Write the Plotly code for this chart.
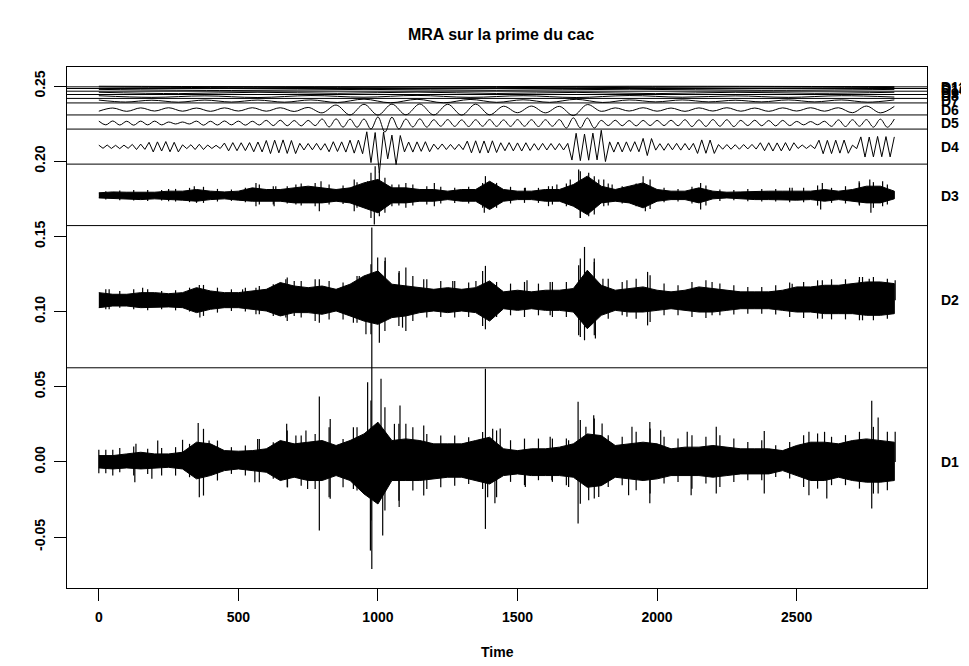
import numpy as np
import plotly.graph_objects as go

# ---- data (wavelet MRA details of the cac premium) ----
t_env = np.arange(0, 2851, 50)          # time grid of the core-band readings
t_hair = np.arange(25, 2851, 50)        # time grid of the outer (hair) readings

d1_hi = [0.0042,0.0042,0.0053,0.0064,0.0053,0.0053,0.0064,0.0131,0.0120,0.0075,
         0.0071,0.0075,0.0087,0.0142,0.0120,0.0131,0.0142,0.0109,0.0142,0.0186,
         0.0264,0.0142,0.0153,0.0142,0.0120,0.0120,0.0120,0.0142,0.0164,0.0087,
         0.0075,0.0087,0.0087,0.0098,0.0120,0.0186,0.0175,0.0109,0.0120,0.0131,
         0.0120,0.0087,0.0098,0.0098,0.0109,0.0098,0.0087,0.0087,0.0087,0.0075,
         0.0109,0.0131,0.0131,0.0120,0.0142,0.0153,0.0142,0.0131]
d1_lo = [-0.0040,-0.0047,-0.0040,-0.0047,-0.0040,-0.0036,-0.0047,-0.0113,-0.0091,-0.0058,
         -0.0047,-0.0058,-0.0069,-0.0124,-0.0102,-0.0124,-0.0124,-0.0091,-0.0124,-0.0213,
         -0.0280,-0.0124,-0.0124,-0.0124,-0.0113,-0.0102,-0.0102,-0.0124,-0.0147,-0.0091,
         -0.0080,-0.0091,-0.0091,-0.0091,-0.0102,-0.0169,-0.0158,-0.0102,-0.0113,-0.0124,
         -0.0113,-0.0091,-0.0091,-0.0091,-0.0102,-0.0091,-0.0080,-0.0080,-0.0080,-0.0058,
         -0.0091,-0.0124,-0.0124,-0.0102,-0.0124,-0.0135,-0.0135,-0.0124]
d1_hair_hi = [0.0080,0.0093,0.0102,0.0087,0.0093,0.0098,0.0120,0.0220,0.0142,0.0098,
              0.0109,0.0153,0.0131,0.0209,0.0175,0.0186,0.0231,0.0153,0.0231,0.0408,
              0.0364,0.0253,0.0231,0.0186,0.0175,0.0175,0.0164,0.0198,0.0209,0.0144,
              0.0155,0.0155,0.0155,0.0155,0.0278,0.0289,0.0178,0.0167,0.0200,0.0222,
              0.0167,0.0155,0.0178,0.0167,0.0178,0.0155,0.0133,0.0144,0.0111,0.0133,
              0.0178,0.0189,0.0167,0.0178,0.0200,0.0233,0.0200]
d1_hair_lo = [-0.0075,-0.0069,-0.0091,-0.0080,-0.0091,-0.0091,-0.0102,-0.0224,-0.0124,-0.0080,
              -0.0091,-0.0135,-0.0113,-0.0169,-0.0158,-0.0180,-0.0235,-0.0169,-0.0191,-0.0390,
              -0.0324,-0.0258,-0.0191,-0.0180,-0.0169,-0.0158,-0.0147,-0.0180,-0.0235,-0.0133,
              -0.0155,-0.0122,-0.0133,-0.0155,-0.0278,-0.0244,-0.0167,-0.0155,-0.0189,-0.0211,
              -0.0144,-0.0133,-0.0178,-0.0144,-0.0167,-0.0133,-0.0122,-0.0122,-0.0100,-0.0111,
              -0.0167,-0.0178,-0.0155,-0.0155,-0.0178,-0.0211,-0.0189]
d1_spikes = [(0,0.008),(0,-0.0075),(50,0.008),(50,-0.009),(133,0.012),(129,-0.0135),
             (211,0.0142),(190,-0.0113),(300,0.0147),(356,0.0258),(360,-0.0235),(395,0.0142),
             (569,0.0153),(559,-0.0135),(673,0.0253),(676,-0.0169),(706,0.0175),(742,0.0209),
             (748,-0.018),(790,0.0435),(790,-0.0457),(829,0.0286),(829,-0.0246),(912,0.0231),
             (912,-0.018),(963,0.053),(973,-0.059),(978,-0.0713),(978,0.156),(1011,0.0553),
             (1017,-0.049),(1059,0.0253),(1079,0.0375),(1076,-0.030),(1100,0.0253),
             (1164,0.0242),(1164,-0.0224),(1385,0.062),(1385,-0.0446),(1411,0.022),
             (1393,-0.0235),(1419,-0.0275),(1438,0.0222),(1528,-0.0167),(1617,0.0167),
             (1623,-0.0122),(1683,0.0144),(1683,-0.0167),(1717,0.040),(1717,-0.041),
             (1745,0.0233),(1773,0.031),(1755,-0.0255),(1803,0.0255),(1791,-0.0233),
             (1898,-0.0222),(1910,0.0233),(1974,0.0266),(1974,-0.0275),(2013,0.0211),
             (2108,0.02),(2122,-0.0222),(2212,0.0233),(2212,-0.0211),(2384,0.0206),
             (2384,-0.0211),(2544,0.02),(2544,-0.0222),(2608,-0.0244),(2600,0.02),
             (2769,0.0406),(2769,-0.031),(2792,0.0295),(2792,-0.0211),(2853,0.02)]

d2_hi = [0.0051,0.0040,0.0040,0.0051,0.0051,0.0044,0.0051,0.0084,0.0062,0.0051,
         0.0051,0.0062,0.0073,0.0118,0.0095,0.0084,0.0095,0.0073,0.0107,0.0162,
         0.0195,0.0107,0.0095,0.0084,0.0073,0.0084,0.0073,0.0084,0.0129,
         0.0056,0.0067,0.0056,0.0067,0.0067,0.0078,0.0200,0.0100,0.0067,0.0078,
         0.0089,0.0067,0.0056,0.0067,0.0089,0.0078,0.0067,0.0056,0.0056,0.0056,
         0.0067,0.0089,0.0089,0.0100,0.0100,0.0111,0.0122,0.0122,0.0111]
d2_lo = [-0.0049,-0.0038,-0.0038,-0.0049,-0.0049,-0.0044,-0.0049,-0.0082,-0.0060,-0.0049,
         -0.0049,-0.0060,-0.0071,-0.0104,-0.0082,-0.0082,-0.0093,-0.0071,-0.0104,-0.0138,
         -0.0160,-0.0115,-0.0104,-0.0082,-0.0071,-0.0082,-0.0071,-0.0082,-0.0138,
         -0.0056,-0.0067,-0.0056,-0.0067,-0.0067,-0.0078,-0.0189,-0.0100,-0.0067,-0.0078,
         -0.0078,-0.0067,-0.0056,-0.0067,-0.0078,-0.0078,-0.0067,-0.0056,-0.0056,-0.0056,
         -0.0067,-0.0078,-0.0078,-0.0089,-0.0089,-0.0089,-0.0100,-0.0100,-0.0089]
d2_hair_hi = [0.0073,0.0062,0.0073,0.0073,0.0062,0.0067,0.0084,0.0102,0.0084,0.0073,
              0.0084,0.0095,0.0107,0.0151,0.0129,0.0140,0.0129,0.0118,0.0162,0.0240,
              0.0262,0.0184,0.0162,0.0140,0.0129,0.0129,0.0118,0.0195,0.0122,0.0111,
              0.0122,0.0111,0.0122,0.0122,0.0278,0.0255,0.0144,0.0122,0.0144,0.0167,
              0.0111,0.0100,0.0122,0.0133,0.0111,0.0100,0.0089,0.0089,0.0100,0.0118,
              0.0122,0.0133,0.0140,0.0140,0.0155,0.0155,0.0144]
d2_hair_lo = [-0.0060,-0.0049,-0.0060,-0.0067,-0.0060,-0.0067,-0.0075,-0.0104,-0.0082,-0.0071,
              -0.0075,-0.0093,-0.0104,-0.0138,-0.0115,-0.0138,-0.0127,-0.0127,-0.0149,-0.0226,
              -0.0204,-0.0171,-0.0138,-0.0115,-0.0111,-0.0115,-0.0111,-0.0171,-0.0111,-0.0100,
              -0.0111,-0.0100,-0.0111,-0.0111,-0.0244,-0.0233,-0.0122,-0.0100,-0.0122,-0.0144,
              -0.0100,-0.0100,-0.0111,-0.0118,-0.0100,-0.0095,-0.0089,-0.0089,-0.0095,-0.0111,
              -0.0118,-0.0122,-0.0127,-0.0127,-0.0133,-0.0133,-0.0122]
d2_spikes = [(37,0.0073),(37,-0.006),(157,0.0084),(360,0.0102),(362,-0.0115),(515,0.0073),
             (563,0.0084),(563,-0.0093),(670,0.014),(670,-0.0115),(700,0.0129),(700,-0.0104),
             (790,0.014),(790,-0.0149),(915,0.0107),(912,-0.0149),(933,0.0162),(957,-0.0226),
             (999,0.0284),(1005,-0.0282),(1026,0.0284),(1076,0.0195),(1088,-0.0182),
             (1100,-0.0204),(1100,0.0218),(1164,0.014),(1268,0.0129),(1351,0.0129),
             (1385,0.0229),(1385,-0.0193),(1534,0.0133),(1617,0.0122),(1617,-0.01),
             (1740,0.0355),(1740,-0.0266),(1719,0.0233),(1719,-0.0233),(1775,0.0278),
             (1779,-0.0255),(1806,0.0144),(1892,0.0133),(1892,-0.011),(1966,0.0189),
             (1966,-0.0167),(2197,0.0122),(2197,-0.01),(2484,0.011),(2592,0.0133),
             (2592,-0.0122),(2724,0.0133),(2736,0.0155),(2736,-0.0133),(2760,0.0144),
             (2853,0.0133)]

d3_hi = [0.0018,0.0024,0.0022,0.0024,0.0022,0.0029,0.0029,0.0040,0.0029,0.0024,
         0.0029,0.0051,0.0040,0.0040,0.0051,0.0062,0.0051,0.0040,0.0051,0.0084,
         0.0107,0.0051,0.0051,0.0040,0.0040,0.0029,0.0040,0.0040,0.0095,0.0040,
         0.0029,0.0029,0.0040,0.0040,0.0073,0.0129,0.0062,0.0040,0.0062,0.0084,
         0.0040,0.0029,0.0029,0.0051,0.0029,0.0022,0.0024,0.0029,0.0029,0.0029,
         0.0029,0.0029,0.0040,0.0029,0.0040,0.0062,0.0062,0.0029]
d3_lo = [-0.0016,-0.0022,-0.0022,-0.0027,-0.0022,-0.0027,-0.0031,-0.0038,-0.0027,-0.0022,
         -0.0031,-0.0038,-0.0038,-0.0038,-0.0049,-0.0049,-0.0049,-0.0038,-0.0049,-0.0082,
         -0.0115,-0.0049,-0.0049,-0.0038,-0.0038,-0.0027,-0.0038,-0.0038,-0.0093,-0.0038,
         -0.0027,-0.0027,-0.0038,-0.0038,-0.0071,-0.0127,-0.0049,-0.0038,-0.0049,-0.0082,
         -0.0038,-0.0027,-0.0027,-0.0049,-0.0022,-0.0016,-0.0022,-0.0027,-0.0027,-0.0027,
         -0.0031,-0.0027,-0.0038,-0.0027,-0.0038,-0.0049,-0.0049,-0.0022]
d3_hair_hi = [0.0029,0.0033,0.0036,0.0036,0.0036,0.0044,0.0051,0.0058,0.0044,0.0040,
              0.0051,0.0073,0.0062,0.0062,0.0080,0.0084,0.0073,0.0067,0.0089,0.0151,
              0.0118,0.0073,0.0073,0.0062,0.0058,0.0051,0.0058,0.0084,0.0084,0.0058,
              0.0051,0.0051,0.0062,0.0080,0.0162,0.0129,0.0080,0.0062,0.0080,0.0107,
              0.0051,0.0044,0.0058,0.0067,0.0040,0.0036,0.0044,0.0044,0.0044,0.0051,
              0.0051,0.0067,0.0051,0.0062,0.0084,0.0089,0.0073]
d3_hair_lo = [-0.0027,-0.0031,-0.0033,-0.0036,-0.0033,-0.0040,-0.0044,-0.0049,-0.0040,-0.0036,
              -0.0044,-0.0060,-0.0060,-0.0053,-0.0067,-0.0071,-0.0060,-0.0056,-0.0082,-0.0149,
              -0.0115,-0.0067,-0.0067,-0.0060,-0.0053,-0.0049,-0.0053,-0.0082,-0.0082,-0.0053,
              -0.0049,-0.0049,-0.0060,-0.0071,-0.0149,-0.0127,-0.0067,-0.0053,-0.0071,-0.0089,
              -0.0044,-0.0040,-0.0053,-0.0067,-0.0036,-0.0031,-0.0038,-0.0040,-0.0040,-0.0044,
              -0.0044,-0.0067,-0.0049,-0.0053,-0.0067,-0.0082,-0.0060]
d3_spikes = [(250,0.0044),(250,-0.0038),(342,0.0062),(350,-0.0049),(563,0.0084),(563,-0.0071),
             (634,0.0062),(628,-0.0071),(706,0.0073),(706,-0.006),(796,0.0095),(790,-0.0104),
             (915,0.0107),(915,-0.0104),(963,0.0095),(990,0.0195),(987,-0.0193),(1005,0.0162),
             (1005,-0.0138),(1050,0.0073),(1050,-0.0071),(1100,0.0084),(1100,-0.0082),
             (1202,0.0084),(1202,-0.0071),(1385,0.0129),(1381,-0.0115),(1528,0.0051),
             (1611,0.0062),(1611,-0.0071),(1641,0.0073),(1689,0.0107),(1719,0.0173),
             (1725,-0.0149),(1755,0.0151),(1755,-0.0138),(1791,0.0107),(1809,0.0107),
             (1809,-0.0071),(1839,0.0073),(1950,0.0129),(1958,-0.0104),(2156,0.0084),
             (2156,-0.0093),(2484,0.0051),(2592,0.0084),(2586,-0.0093),(2724,0.0095),
             (2724,-0.006),(2762,0.0107),(2766,-0.0115),(2808,0.0095),(2808,-0.0071)]

t_d4 = np.arange(0, 2851, 15)
d4 = [0.0011,-0.0010,0.0012,-0.0011,0.0010,-0.0012,0.0011,-0.0010,0.0016,-0.0018,
      0.0018,-0.0017,0.0030,-0.0034,0.0033,-0.0028,0.0035,-0.0033,0.0030,-0.0034,
      0.0013,-0.0012,0.0014,-0.0018,0.0017,-0.0018,0.0012,-0.0011,0.0010,-0.0011,
      0.0025,-0.0027,0.0028,-0.0026,0.0027,-0.0025,0.0028,-0.0033,0.0032,-0.0034,
      0.0042,-0.0045,0.0044,-0.0040,0.0046,-0.0044,0.0042,-0.0045,0.0023,-0.0021,
      0.0022,-0.0020,0.0023,-0.0022,0.0021,-0.0033,0.0034,-0.0031,0.0033,-0.0035,
      0.0044,-0.0042,0.0045,-0.0046,0.0100,-0.0105,0.0095,-0.0173,0.0098,-0.0080,
      0.0078,-0.0118,0.0075,-0.0034,0.0032,-0.0035,0.0033,-0.0030,0.0034,-0.0033,
      0.0018,-0.0017,0.0019,-0.0018,0.0016,-0.0018,0.0017,-0.0019,0.0038,-0.0040,
      0.0040,-0.0042,0.0039,-0.0041,0.0040,-0.0038,0.0027,-0.0026,0.0028,-0.0027,
      0.0026,-0.0028,0.0027,-0.0025,0.0021,-0.0022,0.0023,-0.0021,0.0022,-0.0020,
      0.0022,-0.0021,0.0023,-0.0088,0.0090,-0.0092,0.0085,-0.0089,0.0091,-0.0087,
      0.0110,-0.0098,0.0033,-0.0035,0.0032,-0.0034,0.0033,-0.0031,0.0034,-0.0033,
      0.0056,-0.0058,0.0055,-0.0022,0.0021,-0.0023,0.0022,-0.0020,0.0023,-0.0022,
      0.0022,-0.0021,0.0023,-0.0044,0.0046,-0.0043,0.0045,-0.0044,0.0015,-0.0016,
      0.0015,-0.0016,0.0014,-0.0016,0.0015,-0.0014,0.0016,-0.0015,0.0027,-0.0026,
      0.0027,-0.0028,0.0026,-0.0027,0.0028,-0.0026,0.0027,-0.0011,0.0012,-0.0011,
      0.0011,-0.0012,0.0044,-0.0046,0.0043,-0.0045,0.0044,-0.0042,0.0045,-0.0043,
      0.0011,-0.0012,0.0066,-0.0068,0.0065,-0.0067,0.0069,-0.0066,0.0068,-0.0067,
      0.0066]

t_d5 = np.arange(0, 2851, 25)
d5 = [0.0013,-0.0012,0.0014,-0.0013,0.0012,-0.0014,0.0013,-0.0012,
      0.0013,-0.0012,0.0007,-0.0006,0.0007,-0.0006,0.0013,-0.0014,
      0.0012,-0.0013,0.0014,-0.0012,0.0013,-0.0014,0.0012,-0.0013,
      0.0018,-0.0017,0.0019,-0.0018,0.0017,-0.0019,0.0018,-0.0017,
      0.0027,-0.0026,0.0028,-0.0027,0.0026,-0.0028,0.0027,-0.0040,
      0.0041,-0.0060,0.0039,-0.0040,0.0027,-0.0026,0.0028,-0.0027,
      0.0022,-0.0021,0.0023,-0.0022,0.0021,-0.0023,0.0022,-0.0021,
      0.0023,-0.0022,0.0021,-0.0022,0.0023,-0.0021,0.0022,-0.0023,
      0.0022,-0.0021,0.0023,-0.0033,0.0035,-0.0032,0.0034,-0.0033,
      0.0018,-0.0017,0.0019,-0.0018,0.0017,-0.0019,0.0018,-0.0017,
      0.0018,-0.0017,0.0019,-0.0018,0.0022,-0.0023,0.0021,-0.0022,
      0.0023,-0.0021,0.0022,-0.0023,0.0018,-0.0017,0.0019,-0.0018,
      0.0017,-0.0019,0.0018,-0.0017,0.0011,-0.0012,0.0010,-0.0011,
      0.0012,-0.0022,0.0021,-0.0023,0.0022,-0.0021,0.0023,-0.0027,
      0.0026,-0.0028,0.0027]

t_d6 = np.arange(0, 2851, 50)
d6 = [-0.0011,0.0010,-0.0012,0.0011,-0.0010,0.0012,-0.0011,0.0010,-0.0012,0.0011,
      -0.0010,0.0012,-0.0011,0.0012,-0.0013,0.0014,-0.0022,0.0030,-0.0036,0.0035,
      -0.0037,0.0036,-0.0035,0.0037,-0.0036,0.0035,-0.0037,0.0036,-0.0035,0.0022,
      -0.0021,0.0023,-0.0022,0.0021,-0.0040,0.0033,-0.0012,0.0011,-0.0010,0.0012,
      -0.0011,0.0010,-0.0012,0.0011,-0.0010,0.0012,-0.0011,0.0010,-0.0012,0.0011,
      -0.0010,0.0012,-0.0011,0.0012,-0.0021,0.0023,-0.0022,0.0021]

t_d7 = np.arange(0, 2851, 95)
d7 = [0.0006,-0.0007,0.0005,-0.0008,0.0006,-0.0007,0.0006,-0.0008,0.0007,-0.0010,
      0.0012,-0.0012,0.0011,-0.0012,0.0010,-0.0009,0.0008,-0.0009,0.0011,-0.0010,
      0.0007,-0.0006,0.0007,-0.0006,0.0005,-0.0006,0.0007,-0.0006,0.0007,-0.0008,
      0.0007]
t_d8 = np.arange(0, 2851, 190)
d8 = [0.0005,-0.0006,0.0004,-0.0007,0.0006,-0.0005,0.0007,-0.0006,0.0005,-0.0007,
      0.0006,-0.0005,0.0004,-0.0006,0.0005,-0.0004]
t_d9 = np.arange(0, 2851, 285)
d9 = [0.0004,-0.0005,0.0004,-0.0003,0.0005,-0.0004,0.0003,-0.0005,0.0004,-0.0003,0.0004]
t_d10 = np.arange(0, 2851, 475)
d10 = [0.0003,-0.0004,0.0003,-0.0003,0.0004,-0.0003,0.0003]
t_d11 = np.arange(0, 2851, 570)
d11 = [-0.0003,0.0003,-0.0002,0.0003,-0.0003,0.0002]
t_d12 = np.arange(0, 2851, 950)
d12 = [0.0002,-0.0002,0.0002,-0.0001]

labels = ["D1","D2","D3","D4","D5","D6","D7","D8","D9","D10","D11","D12"]
offsets = [0.0, 0.1075, 0.1772, 0.2096, 0.2254, 0.2344, 0.2401, 0.2431, 0.2455, 0.2475, 0.2489, 0.2497]
separators = [0.0626, 0.1572, 0.1981, 0.2214, 0.2308, 0.2388, 0.2418, 0.2444, 0.2466, 0.2484, 0.2495]

xticks = [0, 500, 1000, 1500, 2000, 2500]
yticks = [-0.05, 0.0, 0.05, 0.10, 0.15, 0.20, 0.25]
ytick_text = ["-0.05", "0.00", "0.05", "0.10", "0.15", "0.20", "0.25"]

FONT = "Liberation Sans, Arial, sans-serif"

fig = go.Figure()

def band(t, hi, lo, off):
    xs = list(t) + list(t[::-1])
    ys = [off + h for h in hi] + [off + l for l in lo[::-1]]
    fig.add_trace(go.Scatter(x=xs, y=ys, mode="lines", fill="toself", fillcolor="black",
                             line=dict(color="black", width=1), hoverinfo="skip"))

def hairs(t, hi, lo, off):
    xs, ys = [], []
    for tt, h, l in zip(t, hi, lo):
        xs += [tt, tt, None]
        ys += [off + l, off + h, None]
    fig.add_trace(go.Scatter(x=xs, y=ys, mode="lines",
                             line=dict(color="black", width=1.2), hoverinfo="skip"))

def spikes(sp, off):
    xs, ys = [], []
    for tt, v in sp:
        xs += [tt, tt, None]
        ys += [off, off + v, None]
    fig.add_trace(go.Scatter(x=xs, y=ys, mode="lines",
                             line=dict(color="black", width=1.2), hoverinfo="skip"))

for hi, lo, hh, hl, sp, off in [(d1_hi, d1_lo, d1_hair_hi, d1_hair_lo, d1_spikes, offsets[0]),
                                (d2_hi, d2_lo, d2_hair_hi, d2_hair_lo, d2_spikes, offsets[1]),
                                (d3_hi, d3_lo, d3_hair_hi, d3_hair_lo, d3_spikes, offsets[2])]:
    band(t_env, hi, lo, off)
    hairs(t_hair, hh, hl, off)
    spikes(sp, off)

# D4 is jagged (straight segments), the slower levels are smooth curves
fig.add_trace(go.Scatter(x=t_d4, y=[offsets[3] + v for v in d4], mode="lines",
                         line=dict(color="black", width=1), hoverinfo="skip"))
for t, d, off in [(t_d5, d5, offsets[4]), (t_d6, d6, offsets[5]),
                  (t_d7, d7, offsets[6]), (t_d8, d8, offsets[7]), (t_d9, d9, offsets[8]),
                  (t_d10, d10, offsets[9]), (t_d11, d11, offsets[10]), (t_d12, d12, offsets[11])]:
    fig.add_trace(go.Scatter(x=t, y=[off + v for v in d], mode="lines",
                             line=dict(color="black", width=1, shape="spline", smoothing=1.0),
                             hoverinfo="skip"))

for s in separators:
    fig.add_shape(type="line", xref="paper", x0=0, x1=1, yref="y", y0=s, y1=s,
                  line=dict(color="black", width=1))

for lab, off in zip(labels, offsets):
    fig.add_annotation(x=1, xref="paper", y=off, yref="y", text=lab, showarrow=False,
                       xanchor="left", xshift=12, font=dict(family=FONT, size=14, color="black", weight="bold"))

fig.add_annotation(x=0.5, xref="paper", y=-0.123, yref="paper", text="Time", showarrow=False,
                   yanchor="middle", font=dict(family=FONT, size=14, color="black", weight="bold"))

# page body has an 8px margin, so the figure is shifted; margins compensate
fig.update_layout(
    width=961, height=658,
    margin=dict(l=59, r=42, t=59, b=78),
    paper_bgcolor="white", plot_bgcolor="white",
    showlegend=False, hovermode=False,
    title=dict(text="MRA sur la prime du cac", x=0.513, xanchor="center", y=0.96, yanchor="middle",
               font=dict(family=FONT, size=16, color="black", weight="bold")),
)
fig.update_xaxes(range=[-114, 2967], tickvals=xticks, ticks="outside", ticklen=12, tickcolor="black",
                 showgrid=False, zeroline=False, showline=True, linecolor="black", linewidth=1, mirror=True,
                 ticklabelstandoff=4,
                 tickfont=dict(family=FONT, size=14, color="black", weight="bold"))
fig.update_yaxes(range=[-0.0839, 0.2627], tickvals=yticks, ticktext=ytick_text, tickangle=-90,
                 ticks="outside", ticklen=12, tickcolor="black",
                 showgrid=False, zeroline=False, showline=True, linecolor="black", linewidth=1, mirror=True,
                 ticklabelstandoff=3,
                 tickfont=dict(family=FONT, size=14, color="black", weight="bold"))

fig.write_html("out.html")
